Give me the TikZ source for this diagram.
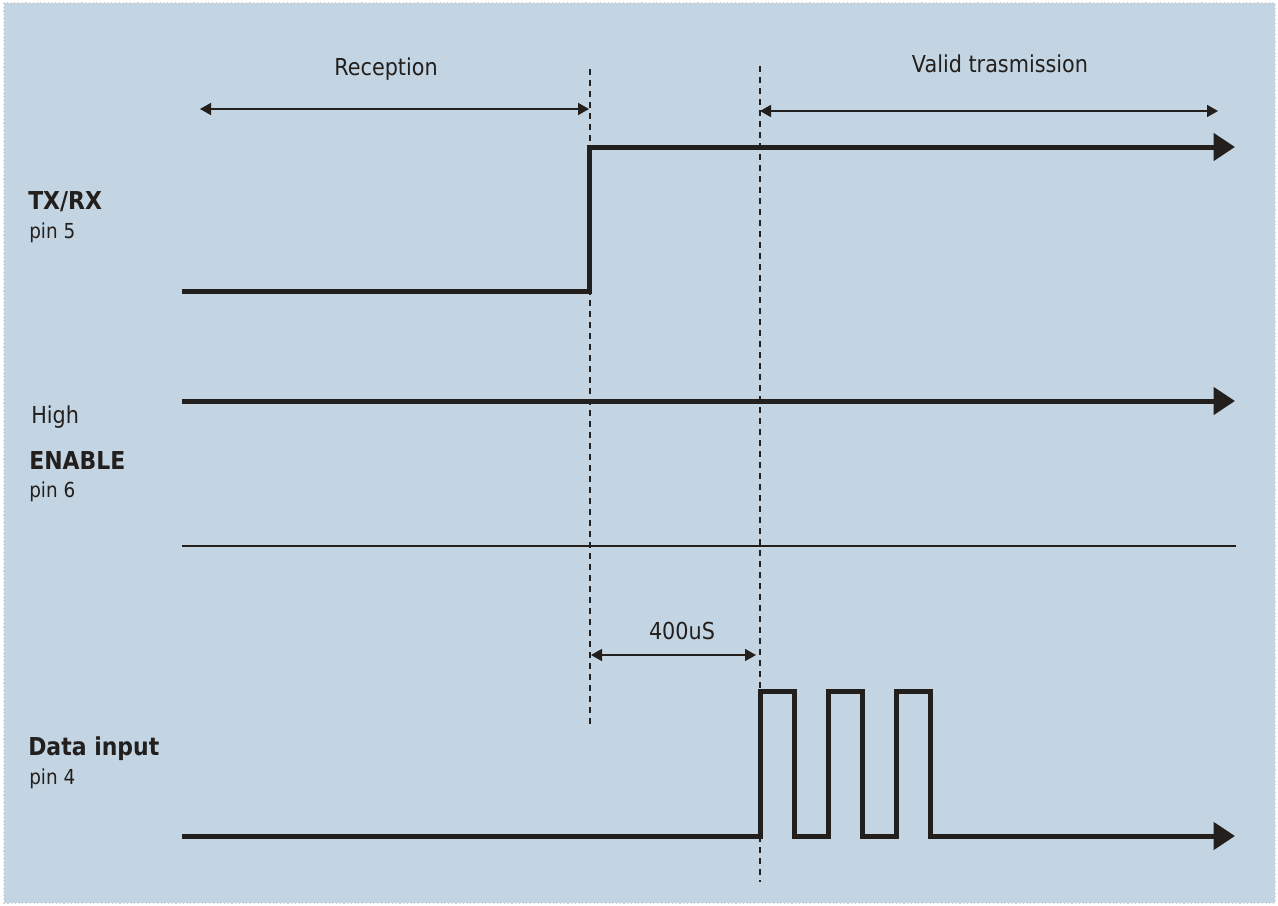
\documentclass[tikz,border=0pt]{standalone}
\usepackage{fontspec}
\setmainfont{DejaVu Sans}[FakeStretch=0.89]
\usetikzlibrary{arrows.meta}
\definecolor{panel}{HTML}{C3D5E3}
\definecolor{ink}{HTML}{231F1C}
\begin{document}
\begin{tikzpicture}
        [x=0.75pt, y=-0.75pt,
        signal/.style={ink, line width=3.75pt, -{Triangle[length=16pt,width=20pt]}},
        dim/.style={ink, line width=1.2pt, {Triangle[length=8.25pt,width=9pt]}-{Triangle[length=8.25pt,width=9pt]}},
        guide/.style={ink, line width=1.3pt, dash pattern=on 4.5pt off 3.75pt},
        spanlbl/.style={inner sep=0, anchor=base, text=ink, font=\fontsize{17.5}{21}\selectfont},
        siglbl/.style={inner sep=0, anchor=base west, text=ink, font=\bfseries\fontsize{18.5}{22}\selectfont},
        pinlbl/.style={inner sep=0, anchor=base west, text=ink, font=\fontsize{15.5}{19}\selectfont}]
        \useasboundingbox (0,0) rectangle (1278,906);
        \fill[white] (0,0) rectangle (1278,906);
        \fill[panel] (4,3) rectangle (1275,903);
        \draw[black!18, line width=0.8pt, dotted] (4,3) rectangle (1275,903);
        % labels
        \node[spanlbl] (reception) at (386,75) {Reception};
        \node[spanlbl] (valid) at (1000,73) {Valid trasmission};
        \node[spanlbl] (delay) at (682,639) {400uS};
        \node[siglbl] (txrx) at (28,209) {TX/RX};
        \node[pinlbl] (pin5) at (29,238) {pin 5};
        \node[spanlbl, anchor=base west] (high) at (31,423) {High};
        \node[siglbl] (enable) at (29,469) {ENABLE};
        \node[pinlbl] (pin6) at (29,497) {pin 6};
        \node[siglbl] (data) at (28,755) {Data input};
        \node[pinlbl] (pin4) at (29,784) {pin 4};
        % guides
        \coordinate (switchtop) at (590,69);
        \coordinate (switchbot) at (590,728);
        \coordinate (validtop) at (760,66);
        \coordinate (validbot) at (760,882);
        \draw[guide] (switchtop) -- (switchbot);
        \draw[guide] (validtop) -- (validbot);
        % spans
        \coordinate (recA) at (200,109);
        \coordinate (recB) at (589,109);
        \coordinate (valA) at (760,111);
        \coordinate (valB) at (1218,111);
        \coordinate (delA) at (591,655);
        \coordinate (delB) at (756,655);
        \draw[dim] (recA) -- (recB);
        \draw[dim] (valA) -- (valB);
        \draw[dim] (delA) -- (delB);
        % signals
        \draw[signal] (182,291) -- (589,291) -- (589,147) -- (1235,147);
        \draw[signal] (182,401) -- (1235,401);
        \draw[ink, line width=0.9pt] (182,546) -- (1236,546);
        \draw[signal] (182,836)
                foreach \t in {760,828,896} {-- (\t,836) -- (\t,691) -- (\t+34,691) -- (\t+34,836)}
                -- (1235,836);
\end{tikzpicture}
\end{document}
